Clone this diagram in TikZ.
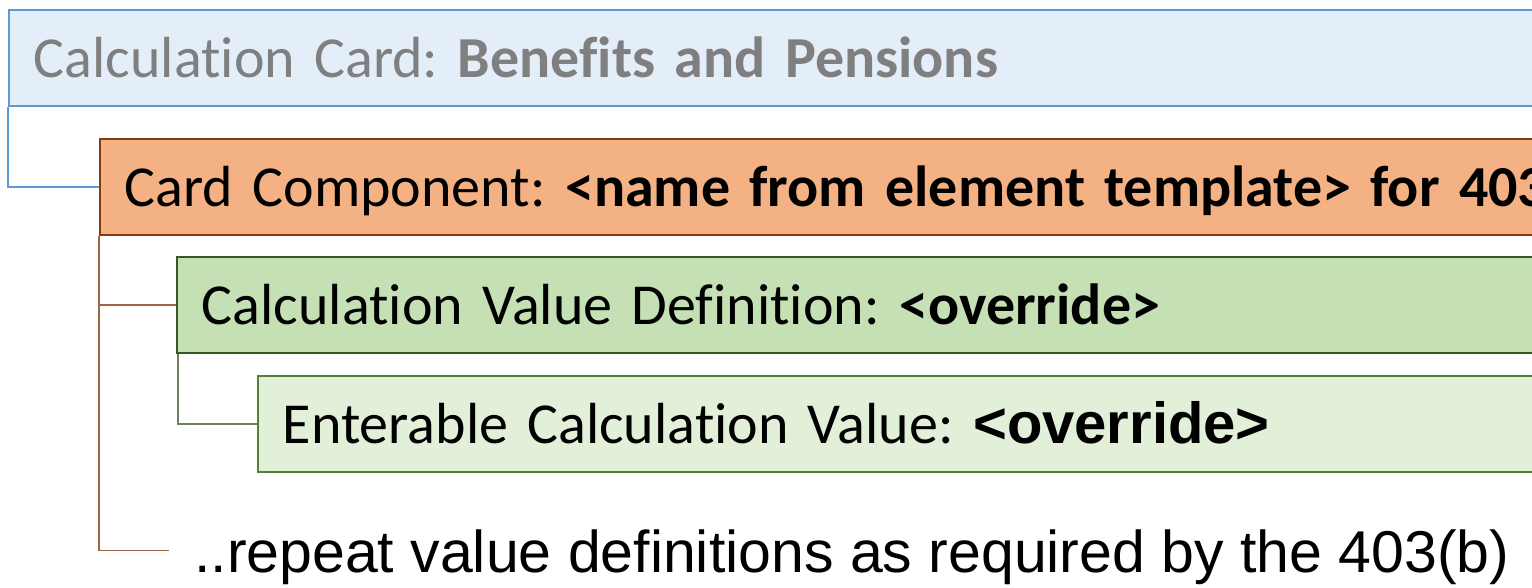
\documentclass[tikz,border=0pt]{standalone}
\usepackage{fontspec}
\setmainfont{Carlito}[Ligatures=NoCommon]
\newfontfamily\arialfont{Liberation Sans}
\usepackage{xcolor}
\usetikzlibrary{positioning}
\definecolor{cardfill}{HTML}{E4EEF8}
\definecolor{carddraw}{HTML}{5B9BD5}
\definecolor{compfill}{HTML}{F4B183}
\definecolor{compdraw}{HTML}{843C0C}
\definecolor{complink}{HTML}{9C6644}
\definecolor{deffill}{HTML}{C5E0B4}
\definecolor{defdraw}{HTML}{385723}
\definecolor{deflink}{HTML}{6B7F62}
\definecolor{entfill}{HTML}{E2F0D9}
\definecolor{entdraw}{HTML}{548235}
\definecolor{cardtext}{HTML}{7F7F7F}
\frenchspacing
\begin{document}
\begin{tikzpicture}[x=1pt,y=-1pt,
 levelbox/.style={draw,line width=1.6pt,anchor=north west,minimum height=96pt,
  inner xsep=25pt,text height=39pt,text depth=0pt,align=left,text width=2000pt,
  font=\fontsize{58}{70}\selectfont},
 tree/.style={line width=1.4pt}]
\useasboundingbox (0,0) rectangle (1532,587);
\clip (0,0) rectangle (1532,587);
\node[levelbox,fill=cardfill,draw=carddraw,text=cardtext] (card) at (8,9)
 {Calculation Card: \textbf{Benefits and Pensions}};
\node[levelbox,fill=compfill,draw=compdraw] (comp) at (99,138)
 {Card Component: \textbf{<name from element template> for 403}};
\node[levelbox,fill=deffill,draw=defdraw] (valdef) at (176,256)
 {Calculation Value Definition: \textbf{<override>}};
\node[levelbox,fill=entfill,draw=entdraw] (enter) at (257,375)
 {Enterable Calculation Value: {\arialfont\bfseries\fontsize{58}{70}\selectfont <override>}};
\node[anchor=base west,inner sep=0pt,text height=43pt,text depth=0pt,
 font=\arialfont\fontsize{59}{70}\selectfont] (repeat) at (194,572)
 {..repeat value definitions as required by the 403(b)};
%tree lines
\draw[tree,draw=carddraw](card.south west)|-(comp.west);
\draw[tree,draw=complink](comp.south west)|-(valdef.west)
 (comp.south west)|-([xshift=-25pt]repeat.west);
\draw[tree,draw=deflink]([xshift=2pt]valdef.south west)|-(enter.west);
\end{tikzpicture}
\end{document}
